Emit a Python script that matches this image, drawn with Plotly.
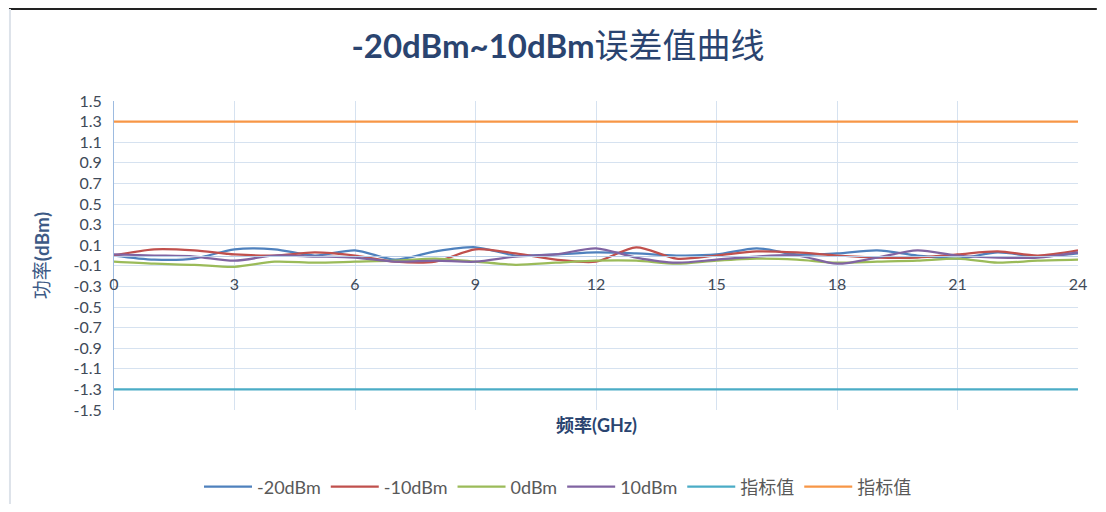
import plotly.graph_objects as go

freq_ghz = list(range(0, 25))
p_m20 = [0.00, -0.04, -0.03, 0.06, 0.06, 0.00, 0.05, -0.04, 0.04, 0.08, 0.00, 0.01, 0.03,
         0.02, 0.00, 0.01, 0.07, 0.01, 0.02, 0.05, 0.00, -0.03, 0.03, -0.01, 0.02]
p_m10 = [0.00, 0.06, 0.05, 0.01, 0.00, 0.03, 0.00, -0.06, -0.06, 0.06, 0.02, -0.04, -0.06,
         0.08, -0.03, 0.00, 0.04, 0.03, 0.00, -0.02, -0.02, 0.01, 0.04, 0.00, 0.05]
p_0 = [-0.06, -0.08, -0.09, -0.11, -0.06, -0.07, -0.06, -0.05, -0.03, -0.06, -0.09, -0.07, -0.05,
       -0.05, -0.08, -0.05, -0.03, -0.04, -0.07, -0.06, -0.05, -0.03, -0.07, -0.05, -0.04]
p_10 = [0.01, 0.00, -0.01, -0.05, 0.00, -0.01, -0.02, -0.06, -0.05, -0.06, -0.01, 0.01, 0.07,
        -0.02, -0.07, -0.04, -0.01, 0.00, -0.08, -0.02, 0.05, 0.00, -0.02, -0.02, 0.03]
limit_low = [-1.3] * len(freq_ghz)
limit_high = [1.3] * len(freq_ghz)

series_names = ["-20dBm", "-10dBm", "0dBm", "10dBm", "指标值", "指标值"]
series_values = [p_m20, p_m10, p_0, p_10, limit_low, limit_high]
series_colors = ["#4F81BD", "#C0504D", "#9BBB59", "#8064A2", "#4BACC6", "#F79646"]

x_ticks = list(range(0, 25, 3))
y_ticks = [round(-1.5 + 0.2 * i, 1) for i in range(16)]
y_tick_text = ["%.1f" % v for v in y_ticks]

fig = go.Figure()
for name, vals, col in zip(series_names, series_values, series_colors):
    fig.add_trace(go.Scatter(x=freq_ghz, y=vals, name=name, mode="lines",
                             line=dict(color=col, width=2.25, shape="spline", smoothing=0.8)))

# page has an 8px body margin: figure pixel = screen pixel - 8
OFF = 8
W, H = 1106 - 2 * OFF, 512 - 2 * OFF
L = 114 - OFF
T = 101 - OFF
R = W - (1087 - OFF)
B = H - (410 - OFF)
pw, ph = W - L - R, H - T - B

def px(sx):
    return (sx - OFF - L) / pw

def py(sy):
    return (H - B - (sy - OFF)) / ph

tick_font = dict(family="Lato, 'Noto Sans CJK SC'", size=16, color="#404a58")
grid_col = "#d6e2f0"

fig.update_layout(
    width=W, height=H,
    margin=dict(l=L, r=R, t=T, b=B),
    paper_bgcolor="white", plot_bgcolor="white",
    title=dict(
        text="<b>-20dBm~10dBm</b><span style='font-family:Noto Sans CJK SC;font-size:34px'>误差值曲线</span>",
        x=(558 - OFF) / W, xref="container", xanchor="center",
        y=1 - (46 - OFF) / H, yref="container", yanchor="middle",
        font=dict(family="Lato", size=33, color="#2a4470")),
    xaxis=dict(range=[0, 24], tickvals=x_ticks, showgrid=True, gridcolor=grid_col, gridwidth=1,
               anchor="free", position=0.5, showline=True, linecolor="#b9cde6", linewidth=1,
               ticks="outside", ticklen=14, tickcolor="rgba(0,0,0,0)", zeroline=False,
               tickfont=tick_font),
    yaxis=dict(range=[-1.5, 1.5], tickvals=y_ticks, ticktext=y_tick_text, showgrid=True,
               gridcolor=grid_col, gridwidth=1, showline=True, linecolor="#9dbbe0", linewidth=1,
               ticks="outside", ticklen=8, tickcolor="rgba(0,0,0,0)", zeroline=False,
               tickfont=tick_font,
               title=dict(text="功率<b>(dBm)</b>", standoff=18,
                          font=dict(family="Lato, 'Noto Sans CJK SC'", size=19, color="#3d5a86"))),
    legend=dict(orientation="h", xref="container", x=(558 - OFF) / W, xanchor="center",
                yref="container", y=1 - (487 - OFF) / H, yanchor="middle",
                font=dict(family="Lato, 'Noto Sans CJK SC'", size=18, color="#595959"),
                itemwidth=48, tracegroupgap=0),
    annotations=[dict(text="<b>频率(GHz)</b>", x=0.5, xref="paper", y=py(425), yref="paper",
                      showarrow=False, xanchor="center", yanchor="middle",
                      font=dict(family="Lato, 'Noto Sans CJK SC'", size=18, color="#2a4470"))],
    shapes=[
        dict(type="line", xref="paper", yref="paper", x0=px(8), x1=px(1106), y0=py(9), y1=py(9),
             line=dict(color="#222222", width=2)),
        dict(type="line", xref="paper", yref="paper", x0=px(9), x1=px(9), y0=py(9), y1=py(512),
             line=dict(color="#dde3ea", width=2)),
    ],
)

fig.write_html("out.html")
